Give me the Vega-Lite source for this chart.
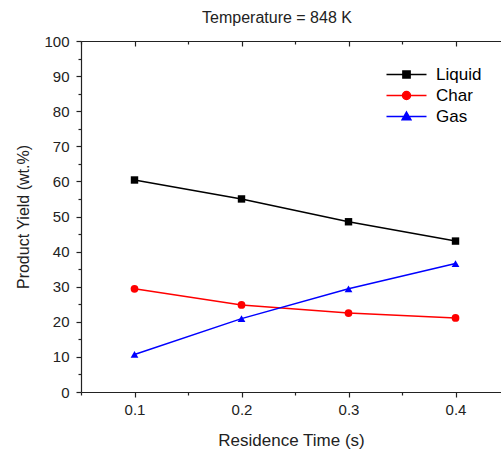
{
  "$schema": "https://vega.github.io/schema/vega-lite/v6.json",
  "width": 420,
  "height": 351,
  "autosize": {"type": "none"},
  "padding": {"left": 81, "top": 41, "right": 0, "bottom": 58},
  "title": {"text": "Temperature = 848 K", "fontSize": 16, "font": "Liberation Sans", "fontWeight": "normal", "color": "#222", "anchor": "middle", "dx": -14, "offset": 8},
  "config": {
    "view": {"stroke": null},
    "font": "Liberation Sans",
    "axis": {"grid": false, "domainColor": "#222", "tickColor": "#222", "labelColor": "#222", "titleColor": "#222", "labelFont": "Liberation Sans", "titleFont": "Liberation Sans", "labelFontSize": 15, "titleFontSize": 17, "titleFontWeight": "normal", "domainWidth": 1.2, "tickWidth": 1.2, "labelOverlap": false}
  },
  "data": {"values": [
    {"t": 0.1, "y": 60.4, "s": "Liquid"},
    {"t": 0.2, "y": 55.0, "s": "Liquid"},
    {"t": 0.3, "y": 48.5, "s": "Liquid"},
    {"t": 0.4, "y": 43.0, "s": "Liquid"},
    {"t": 0.1, "y": 29.4, "s": "Char"},
    {"t": 0.2, "y": 24.8, "s": "Char"},
    {"t": 0.3, "y": 22.5, "s": "Char"},
    {"t": 0.4, "y": 21.1, "s": "Char"},
    {"t": 0.1, "y": 10.7, "s": "Gas"},
    {"t": 0.2, "y": 20.9, "s": "Gas"},
    {"t": 0.3, "y": 29.4, "s": "Gas"},
    {"t": 0.4, "y": 36.6, "s": "Gas"}
  ]},
  "encoding": {
    "y": {"field": "y", "type": "quantitative", "scale": {"domain": [0, 100], "nice": false},
      "axis": {"title": "Product Yield (wt.%)", "titleFontSize": 16, "values": [0,5,10,15,20,25,30,35,40,45,50,55,60,65,70,75,80,85,90,95,100],
        "labelExpr": "datum.value % 10 === 0 ? datum.label : ''",
        "tickSize": {"condition": {"test": "datum.value % 10 === 0", "value": 5}, "value": 3},
        "labelOverlap": false, "labelPadding": 7, "titlePadding": 12, "labelFlush": false}},
    "color": {"field": "s", "type": "nominal", "scale": {"domain": ["Liquid", "Char", "Gas"], "range": ["#000000", "#ff0000", "#0000ff"]},
      "legend": {"title": null, "orient": "none", "legendX": 317, "legendY": 25, "labelFontSize": 17, "labelFont": "Liberation Sans", "labelColor": "#000",
        "symbolSize": 64, "labelOffset": 21, "rowPadding": 3, "symbolStrokeWidth": 1.5,
        "encode": {"symbols": {"update": {
          "shape": {"signal": "datum.value === 'Liquid' ? 'M-5,0H5M-0.9,-0.9H0.9V0.9H-0.9Z' : datum.value === 'Char' ? 'M-5,0H5M1,0A1,1,0,1,1,-1,0A1,1,0,1,1,1,0Z' : 'M-5,0H5M0,-1.1L1.1,0.8L-1.1,0.8Z'"},
          "fill": {"signal": "datum.value === 'Liquid' ? '#000000' : datum.value === 'Char' ? '#ff0000' : '#0000ff'"},
          "stroke": {"signal": "datum.value === 'Liquid' ? '#000000' : datum.value === 'Char' ? '#ff0000' : '#0000ff'"},
          "fillOpacity": {"value": 1},
          "opacity": {"value": 1}
        }}}}}
  },
  "layer": [
    {
      "mark": {"type": "line", "strokeWidth": 1.5},
      "encoding": {
        "x": {"field": "t", "type": "quantitative", "scale": {"domain": [0.05, 0.4425], "nice": false, "zero": false},
          "axis": {"orient": "bottom", "title": "Residence Time (s)", "values": [0.05, 0.1, 0.15, 0.2, 0.25, 0.3, 0.35, 0.4],
            "labelExpr": "abs(datum.value*10 - round(datum.value*10)) < 0.001 ? format(datum.value, '.1f') : ''",
            "tickSize": {"condition": {"test": "abs(datum.value*10 - round(datum.value*10)) < 0.001", "value": 5}, "value": 3},
            "labelOverlap": false, "labelPadding": 5, "titlePadding": 15, "labelFlush": false}}
      }
    },
    {
      "transform": [{"filter": "datum.s === 'Liquid'"}],
      "mark": {"type": "point", "filled": true, "size": 55, "opacity": 1, "shape": "square"},
      "encoding": {
        "x": {"field": "t", "type": "quantitative", "scale": {"domain": [0.05, 0.4425], "nice": false, "zero": false},
          "axis": {"orient": "top", "title": null, "labels": false, "values": [0.05, 0.1, 0.15, 0.2, 0.25, 0.3, 0.35, 0.4],
            "tickSize": {"condition": {"test": "abs(datum.value*10 - round(datum.value*10)) < 0.001", "value": -5}, "value": -3}}}
      }
    },
    {
      "transform": [{"filter": "datum.s === 'Char'"}],
      "mark": {"type": "point", "filled": true, "size": 60, "opacity": 1, "shape": "circle"},
      "encoding": {
        "x": {"field": "t", "type": "quantitative", "axis": null}
      }
    },
    {
      "transform": [{"filter": "datum.s === 'Gas'"}],
      "mark": {"type": "point", "filled": true, "size": 60, "opacity": 1, "shape": "triangle-up"},
      "encoding": {
        "x": {"field": "t", "type": "quantitative", "axis": null}
      }
    }
  ],
  "resolve": {"axis": {"x": "independent"}}
}
